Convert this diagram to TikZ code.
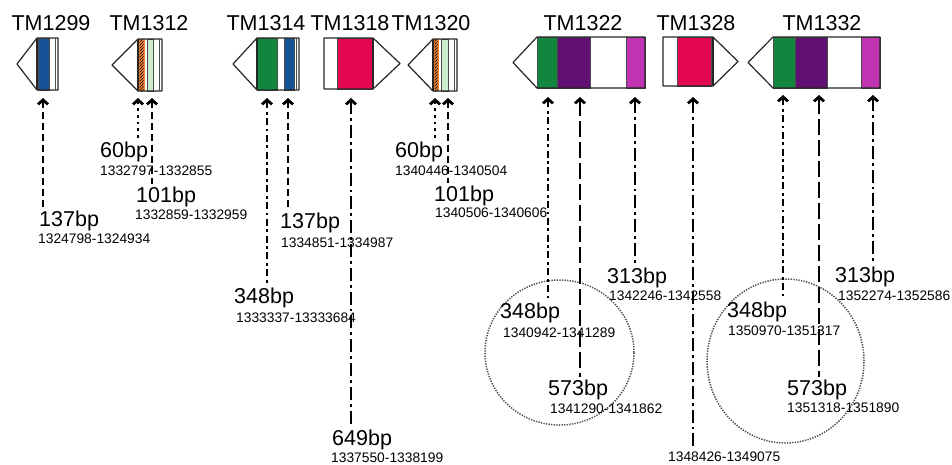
\documentclass[tikz,border=0pt]{standalone}
\usepackage{fontspec}
\setmainfont{Liberation Sans}
\usetikzlibrary{arrows.meta,patterns}
\definecolor{dblue}{RGB}{22,82,150}
\definecolor{dgreen}{RGB}{16,134,62}
\definecolor{lgreen}{RGB}{205,238,205}
\definecolor{dpurple}{RGB}{96,16,112}
\definecolor{magent}{RGB}{192,52,178}
\definecolor{crim}{RGB}{226,6,78}
\definecolor{orng}{RGB}{235,130,50}
\tikzset{
  gname/.style={font=\fontsize{21.5}{24}\selectfont,inner sep=0pt,anchor=base},
  bplab/.style={font=\fontsize{21.5}{24}\selectfont,inner sep=0pt,anchor=base west,text height=18pt},
  poslab/.style={font=\fontsize{13.8}{16}\selectfont,inner sep=0pt,anchor=base west,text height=12pt},
  gene/.style={draw=black!85,line width=1.2pt,line join=round},
  stripe/.style={draw=black!70,line width=0.6pt},
  probe/.style={line width=2.8pt,{Straight Barb[length=4.5pt,width=10pt]}-},
  dashA/.style={dash pattern=on 7pt off 4pt},
  dotA/.style={dash pattern=on 2.8pt off 4pt},
  dashdotA/.style={dash pattern=on 7pt off 3.5pt on 2.8pt off 3.5pt},
  longdash/.style={dash pattern=on 16pt off 5pt},
  longdashdot/.style={dash pattern=on 13pt off 4pt on 2.8pt off 4pt},
  ring/.style={draw=black!70,line width=1.5pt,dash pattern=on 1.3pt off 1.3pt},
}
\begin{document}
\begin{tikzpicture}[x=1pt,y=1pt]
  \useasboundingbox (0,0) rectangle (952,-464);
  \draw[ring] (559.5,-352.5) ellipse (74.5 and 72.5);
  \draw[ring] (785.5,-361) ellipse (78.5 and 82);

  \filldraw[stripe,fill=dblue] (38,-38) rectangle (49,-90);
  \draw[gene] (17,-64) -- (37,-38) -- (58,-38) -- (58,-90) -- (37,-90) -- cycle;
  \draw[gene] (37,-38) -- (37,-90);
  \draw[stripe] (55,-38) -- (55,-90);

  \fill[orng] (138,-39) rectangle (145,-91);
  \fill[pattern=north east lines,pattern color=black] (139.5,-39) rectangle (143.5,-91);
  \filldraw[stripe,fill=lgreen] (147,-39) rectangle (153,-91);
  \draw[gene] (112,-65) -- (138,-39) -- (162,-39) -- (162,-91) -- (138,-91) -- cycle;
  \draw[gene] (138,-39) -- (138,-91);
  \draw[stripe] (159,-39) -- (159,-91);

  \filldraw[stripe,fill=dgreen] (257,-38) rectangle (277,-90);
  \filldraw[stripe,fill=dblue] (284,-38) rectangle (294,-90);
  \draw[gene] (233,-64) -- (257,-38) -- (299,-38) -- (299,-90) -- (257,-90) -- cycle;
  \draw[gene] (257,-38) -- (257,-90);
  \draw[stripe] (296,-38) -- (296,-90);

  \filldraw[stripe,fill=crim] (337,-38) rectangle (372,-89);
  \draw[gene] (324,-38) -- (373,-38) -- (400,-63.5) -- (373,-89) -- (324,-89) -- cycle;
  \draw[gene] (373,-38) -- (373,-89);

  \fill[orng] (433,-39) rectangle (439,-91);
  \fill[pattern=north east lines,pattern color=black] (434.5,-39) rectangle (437.5,-91);
  \filldraw[stripe,fill=lgreen] (441,-39) rectangle (448,-91);
  \draw[gene] (408,-65) -- (433,-39) -- (457,-39) -- (457,-91) -- (433,-91) -- cycle;
  \draw[gene] (433,-39) -- (433,-91);
  \draw[stripe] (454,-39) -- (454,-91);

  \filldraw[stripe,fill=dgreen] (537,-37) rectangle (557,-88);
  \filldraw[stripe,fill=dpurple] (557,-37) rectangle (590,-88);
  \filldraw[stripe,fill=magent] (626,-37) rectangle (645,-88);
  \draw[gene] (513,-62.5) -- (537,-37) -- (645,-37) -- (645,-88) -- (537,-88) -- cycle;

  \filldraw[stripe,fill=crim] (677,-37) rectangle (711,-86);
  \draw[gene] (663,-37) -- (713,-37) -- (738,-61.5) -- (713,-86) -- (663,-86) -- cycle;
  \draw[gene] (713,-37) -- (713,-86);

  \filldraw[stripe,fill=dgreen] (773,-37) rectangle (795,-88);
  \filldraw[stripe,fill=dpurple] (795,-37) rectangle (827,-88);
  \filldraw[stripe,fill=magent] (861,-37) rectangle (880,-88);
  \draw[gene] (748,-62.5) -- (773,-37) -- (880,-37) -- (880,-88) -- (773,-88) -- cycle;

  \node[gname] (n1299) at (51,-30) {TM1299};
  \node[gname] (n1312) at (149,-30) {TM1312};
  \node[gname] (n1314) at (266,-30) {TM1314};
  \node[gname] (n1318) at (350,-30) {TM1318};
  \node[gname] (n1320) at (431,-30) {TM1320};
  \node[gname] (n1322) at (583,-30) {TM1322};
  \node[gname] (n1328) at (696,-30) {TM1328};
  \node[gname] (n1332) at (822,-30) {TM1332};

  \coordinate (t1299) at (43,-98);
  \coordinate (t1312a) at (138,-98);
  \coordinate (t1312b) at (152,-98);
  \coordinate (t1314a) at (267,-98);
  \coordinate (t1314b) at (288,-98);
  \coordinate (t1318) at (351,-98);
  \coordinate (t1320a) at (435,-98);
  \coordinate (t1320b) at (448,-98);
  \coordinate (t1322a) at (548,-97);
  \coordinate (t1322b) at (580,-97);
  \coordinate (t1322c) at (635,-97);
  \coordinate (t1328) at (693,-97);
  \coordinate (t1332a) at (783,-95);
  \coordinate (t1332b) at (819,-95);
  \coordinate (t1332c) at (873,-95);

  \node[bplab] (b1299) at (39,-226) {137bp};
  \node[poslab] (c1299) at (38,-243) {1324798-1324934};
  \node[bplab] (b1312a) at (100,-157) {60bp};
  \node[poslab] (c1312a) at (100,-175) {1332797-1332855};
  \node[bplab] (b1312b) at (136,-202) {101bp};
  \node[poslab] (c1312b) at (135,-219) {1332859-1332959};
  \node[bplab] (b1314a) at (234,-303) {348bp};
  \node[poslab] (c1314a) at (236,-322) {1333337-13333684};
  \node[bplab] (b1314b) at (280,-228) {137bp};
  \node[poslab] (c1314b) at (281,-247) {1334851-1334987};
  \node[bplab] (b1318) at (332,-445) {649bp};
  \node[poslab] (c1318) at (331,-462) {1337550-1338199};
  \node[bplab] (b1320a) at (395,-157) {60bp};
  \node[poslab] (c1320a) at (395,-175) {1340446-1340504};
  \node[bplab] (b1320b) at (434,-201) {101bp};
  \node[poslab] (c1320b) at (435,-217) {1340506-1340606};
  \node[bplab] (b1322a) at (500,-318) {348bp};
  \node[poslab] (c1322a) at (503,-337) {1340942-1341289};
  \node[bplab] (b1322b) at (548,-395) {573bp};
  \node[poslab] (c1322b) at (550,-413) {1341290-1341862};
  \node[bplab] (b1322c) at (607,-283) {313bp};
  \node[poslab] (c1322c) at (609,-300) {1342246-1342558};
  \node[poslab] (c1328) at (668,-461) {1348426-1349075};
  \node[bplab] (b1332a) at (727,-317) {348bp};
  \node[poslab] (c1332a) at (728,-335) {1350970-1351317};
  \node[bplab] (b1332b) at (787,-395) {573bp};
  \node[poslab] (c1332b) at (787,-412) {1351318-1351890};
  \node[bplab] (b1332c) at (835,-282) {313bp};
  \node[poslab] (c1332c) at (838,-300) {1352274-1352586};

  \draw[probe,dashA] (t1299) -- (t1299 |- b1299.north);
  \draw[probe,dotA] (t1312a) -- (t1312a |- b1312a.north);
  \draw[probe,dashA] (t1312b) -- (t1312b |- b1312b.north);
  \draw[probe,dashdotA] (t1314a) -- (t1314a |- b1314a.north);
  \draw[probe,dashA] (t1314b) -- (t1314b |- b1314b.north);
  \draw[probe,longdashdot] (t1318) -- (t1318 |- b1318.north);
  \draw[probe,dotA] (t1320a) -- (t1320a |- b1320a.north);
  \draw[probe,dashA] (t1320b) -- (t1320b |- b1320b.north);
  \draw[probe,dashdotA] (t1322a) -- (t1322a |- b1322a.north);
  \draw[probe,longdash] (t1322b) -- (t1322b |- b1322b.north);
  \draw[probe,longdashdot] (t1322c) -- (t1322c |- b1322c.north);
  \draw[probe,longdashdot] (t1328) -- (t1328 |- c1328.north);
  \draw[probe,dashdotA] (t1332a) -- (t1332a |- b1332a.north);
  \draw[probe,longdash] (t1332b) -- (t1332b |- b1332b.north);
  \draw[probe,longdashdot] (t1332c) -- (t1332c |- b1332c.north);
\end{tikzpicture}
\end{document}
